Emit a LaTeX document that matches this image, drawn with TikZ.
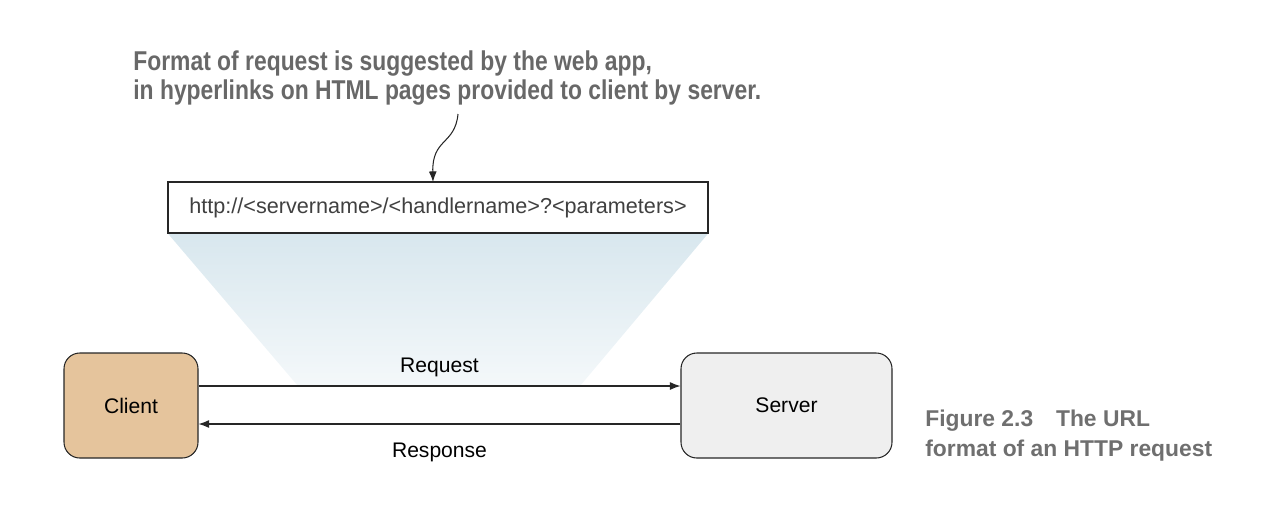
\documentclass[tikz,border=0pt]{standalone}
\usepackage{fontspec}
\setmainfont{Liberation Sans}
\newfontfamily\notefont[FakeStretch=0.84]{Liberation Sans}
\usepackage{tikz}
\usetikzlibrary{positioning,arrows.meta}

\definecolor{clientfill}{RGB}{229,196,156}
\definecolor{serverfill}{RGB}{239,239,239}
\definecolor{notegray}{RGB}{104,104,104}
\definecolor{funneltop}{RGB}{216,231,238}
\definecolor{funnelbot}{RGB}{244,248,250}

\begin{document}
\begin{tikzpicture}[x = 0.02cm, y = -0.02cm,
    box/.style = { draw = black!85, line width = 0.6pt, rounded corners = 9pt, font = \fontsize{12}{14}\selectfont },
    msg/.style = { draw = black!85, line width = 0.6pt, -{Latex[length=6pt,width=4.5pt]} },
    note/.style = { text = notegray, font = \notefont\bfseries\fontsize{15.5}{17}\selectfont, align = left, inner sep = 0pt }]
  \useasboundingbox (0,0) rectangle (1270,508);

  % url box and the funnel under it
  \node [draw = black!85, line width = 0.6pt, minimum width = 540*0.02cm, minimum height = 50*0.02cm,
         font = \fontsize{12.3}{14}\selectfont, text = black!75] (url) at (438,207.5)
        {http://<servername>/<handlername>?<parameters>};
  \coordinate (fl) at (298,386);
  \coordinate (fr) at (580,386);
  \path [top color = funneltop, bottom color = funnelbot]
        (url.south west) -- (url.south east) -- (fr) -- (fl) -- cycle;
  \draw [black!85, line width = 0.6pt] (url.north west) rectangle (url.south east);

  % client and server
  \node [box, fill = clientfill, minimum width = 134*0.02cm, minimum height = 105*0.02cm] (client) at (131,405.5) {Client};
  \node [box, fill = serverfill, minimum width = 211*0.02cm, minimum height = 105*0.02cm] (server) at (786.5,405.5) {Server};

  \draw [msg] (client.east |- 0,386) -- node [above = 1.5pt, font = \fontsize{12}{14}\selectfont] (req) {Request} (server.west |- 0,386);
  \draw [msg] (server.west |- 0,424) -- node [below = 7pt, font = \fontsize{12}{14}\selectfont] (resp) {Response} (client.east |- 0,424);

  % annotation
  \node [note, anchor = north west] (hint) at (133,50)
        {Format of request is suggested by the web app,\\in hyperlinks on HTML pages provided to client by server.};
  \coordinate (hintend) at (458,114);
  \draw [black!85, line width = 0.6pt, -{Latex[length=6pt,width=4.5pt]}]
        (hintend) .. controls (455,145) and (432,138) .. (url.north -| 433,0);

  % caption
  \node [note, text = notegray!95, font = \bfseries\fontsize{13}{17}\selectfont, anchor = north west] (cap) at (925,410)
        {Figure 2.3\quad The URL\\format of an HTTP request};
\end{tikzpicture}
\end{document}
